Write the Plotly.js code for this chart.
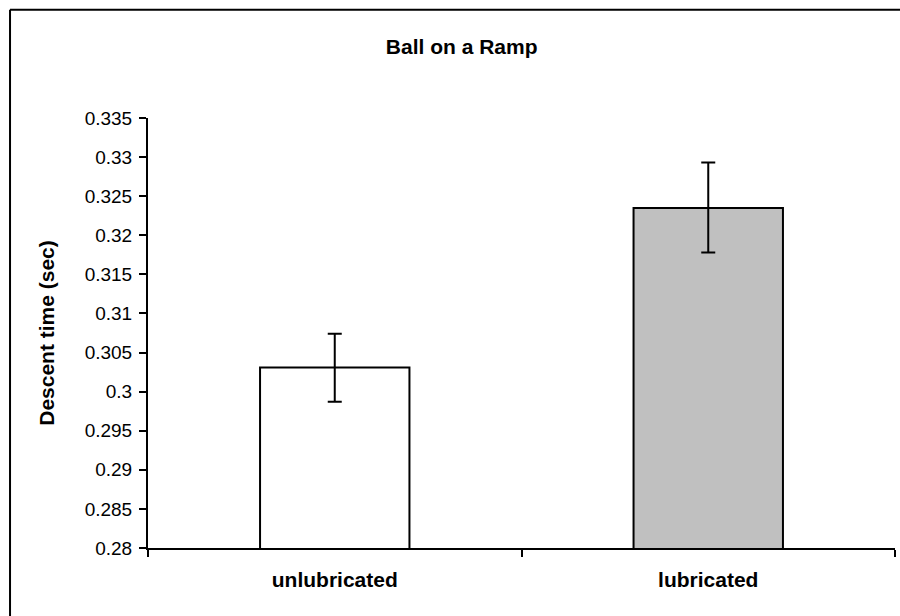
<!DOCTYPE html>
<html>
<head>
<meta charset="utf-8">
<script src="https://cdn.plot.ly/plotly-3.0.1.min.js"></script>
<style>
  html, body { margin: 0; padding: 0; background: #fff; }
  #chart { width: 900px; height: 616px; }
</style>
</head>
<body>
<div id="chart"></div>
<script>
// Data
const categories = ["unlubricated", "lubricated"];
const descentTimes = [0.3031, 0.3235];
const errorUpper = [0.0043, 0.0058];
const errorLower = [0.0044, 0.0057];
const barColors = ["#FFFFFF", "#C0C0C0"];
const yTickValues = [0.28, 0.285, 0.29, 0.295, 0.3, 0.305, 0.31, 0.315, 0.32, 0.325, 0.33, 0.335];
const yTickLabels = ["0.28", "0.285", "0.29", "0.295", "0.3", "0.305", "0.31", "0.315", "0.32", "0.325", "0.33", "0.335"];

const trace = {
  type: "bar",
  x: categories,
  y: descentTimes,
  marker: { color: barColors, line: { color: "#000", width: 2 } },
  error_y: {
    type: "data",
    symmetric: false,
    array: errorUpper,
    arrayminus: errorLower,
    color: "#000",
    thickness: 2,
    width: 7
  },
  hoverinfo: "x+y"
};

const layout = {
  width: 900,
  height: 616,
  margin: { l: 148, r: 5, t: 118, b: 68 },
  paper_bgcolor: "#fff",
  plot_bgcolor: "#fff",
  showlegend: false,
  bargap: 0.6,
  font: { family: "Liberation Sans, Arial, sans-serif", color: "#000" },
  title: {
    text: "<b>Ball on a Ramp</b>",
    font: { size: 21, family: "Liberation Sans, Arial, sans-serif", color: "#000" },
    xref: "container", x: 0.513, xanchor: "center",
    yref: "container", y: 1 - 47 / 616, yanchor: "middle"
  },
  xaxis: {
    type: "category",
    showline: true, linecolor: "#000", linewidth: 2,
    ticks: "outside", tickson: "boundaries", ticklen: 7, tickwidth: 2, tickcolor: "#000",
    tickfont: { size: 21, family: "Liberation Sans, Arial, sans-serif", color: "#000", weight: "bold" },
    showgrid: false, zeroline: false,
    ticklabelstandoff: 12
  },
  yaxis: {
    range: [0.28, 0.335],
    tickvals: yTickValues,
    ticktext: yTickLabels,
    showline: true, linecolor: "#000", linewidth: 2,
    ticks: "outside", ticklen: 7, tickwidth: 2, tickcolor: "#000",
    tickfont: { size: 19, family: "Liberation Sans, Arial, sans-serif", color: "#000" },
    ticklabelstandoff: 3,
    showgrid: false, zeroline: false,
    title: {
      text: "<b>Descent time (sec)</b>",
      font: { size: 21, family: "Liberation Sans, Arial, sans-serif", color: "#000" },
      standoff: 24
    }
  },
  shapes: [
    { type: "line", xref: "paper", yref: "paper",
      x0: -0.1847, x1: -0.1847, y0: -0.3, y1: 1.2519,
      line: { color: "#000", width: 2 }, layer: "below" },
    { type: "line", xref: "paper", yref: "paper",
      x0: -0.1847, x1: 1.3, y0: 1.2519, y1: 1.2519,
      line: { color: "#000", width: 2 }, layer: "below" }
  ]
};

Plotly.newPlot("chart", [trace], layout, { displayModeBar: false, staticPlot: true });
</script>
</body>
</html>
